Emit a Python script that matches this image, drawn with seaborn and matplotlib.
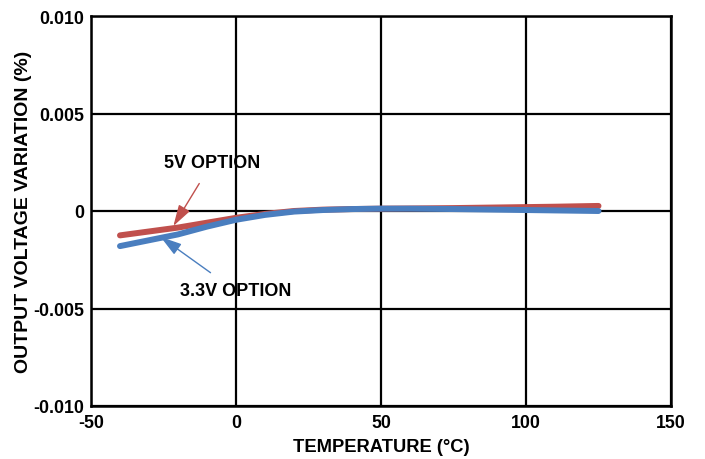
import matplotlib
matplotlib.use("Agg")
import matplotlib.pyplot as plt
import seaborn as sns
import pandas as pd

temperature = [-40, -30, -20, -10, 0, 10, 20, 30, 40, 50, 60, 75, 90, 100, 110, 125]
v5_option = [-0.00125, -0.00105, -0.00085, -0.0006, -0.00035, -0.00015, 0.0, 0.00007,
             0.0001, 0.00012, 0.00013, 0.00015, 0.00018, 0.0002, 0.00022, 0.00026]
v33_option = [-0.0018, -0.0015, -0.0012, -0.0008, -0.00045, -0.0002, -0.00003, 0.00005,
              0.0001, 0.00012, 0.00012, 0.0001, 0.00007, 0.00005, 0.00003, 0.0]
x_ticks = [-50, 0, 50, 100, 150]
y_ticks = [-0.010, -0.005, 0, 0.005, 0.010]
y_tick_labels = ["-0.010", "-0.005", "0", "0.005", "0.010"]

sns.set_theme(style="white")
plt.rcParams['font.family'] = ['Liberation Sans', 'DejaVu Sans']
plt.rcParams['text.color'] = 'black'
plt.rcParams['axes.labelcolor'] = 'black'
plt.rcParams['xtick.color'] = 'black'
plt.rcParams['ytick.color'] = 'black'

red = "#c0504d"
blue = "#4a7ebf"

fig = plt.figure(figsize=(7.05, 4.6), dpi=100)
ax = fig.add_axes([91/705, 1-407/460, 580/705, 390/460])

df = pd.DataFrame({"T": temperature, "5V": v5_option, "3.3V": v33_option})
sns.lineplot(data=df, x="T", y="5V", ax=ax, color=red, linewidth=4.3, zorder=3)
sns.lineplot(data=df, x="T", y="3.3V", ax=ax, color=blue, linewidth=4.3, zorder=4)

tick_fs = 12.8
ax.set_xlim(-50, 150)
ax.set_ylim(-0.010, 0.010)
ax.set_xticks(x_ticks)
ax.set_xticklabels([str(t) for t in x_ticks], fontsize=tick_fs, fontweight="bold", color="black")
ax.set_yticks(y_ticks)
ax.set_yticklabels(y_tick_labels, fontsize=tick_fs, fontweight="bold", color="black")
ax.grid(True, color="black", linewidth=1.6)
ax.set_axisbelow(True)
for s in ax.spines.values():
    s.set_color("black")
    s.set_linewidth(1.8)
ax.tick_params(axis="x", length=0, pad=6)
ax.tick_params(axis="y", length=0, pad=5)
ax.set_xlabel("TEMPERATURE (°C)", fontsize=13.2, fontweight="bold", color="black", labelpad=5)
ax.set_ylabel("OUTPUT VOLTAGE VARIATION (%)", fontsize=14, fontweight="bold", color="black", labelpad=1)

ax.annotate("5V OPTION", xy=(-21.6, -0.00077), xytext=(-8.2, 0.0025),
            fontsize=13, fontweight="bold", ha="center", va="center", zorder=6,
            arrowprops=dict(arrowstyle="-|>,head_length=1.0,head_width=0.3", color=red,
                            lw=1.0, shrinkA=8, shrinkB=0))
ax.annotate("3.3V OPTION", xy=(-26, -0.00133), xytext=(0, -0.0041),
            fontsize=13, fontweight="bold", ha="center", va="center", zorder=6,
            arrowprops=dict(arrowstyle="-|>,head_length=1.0,head_width=0.3", color=blue,
                            lw=1.0, shrinkA=8, shrinkB=0))

fig.savefig("out.png", dpi=100)
